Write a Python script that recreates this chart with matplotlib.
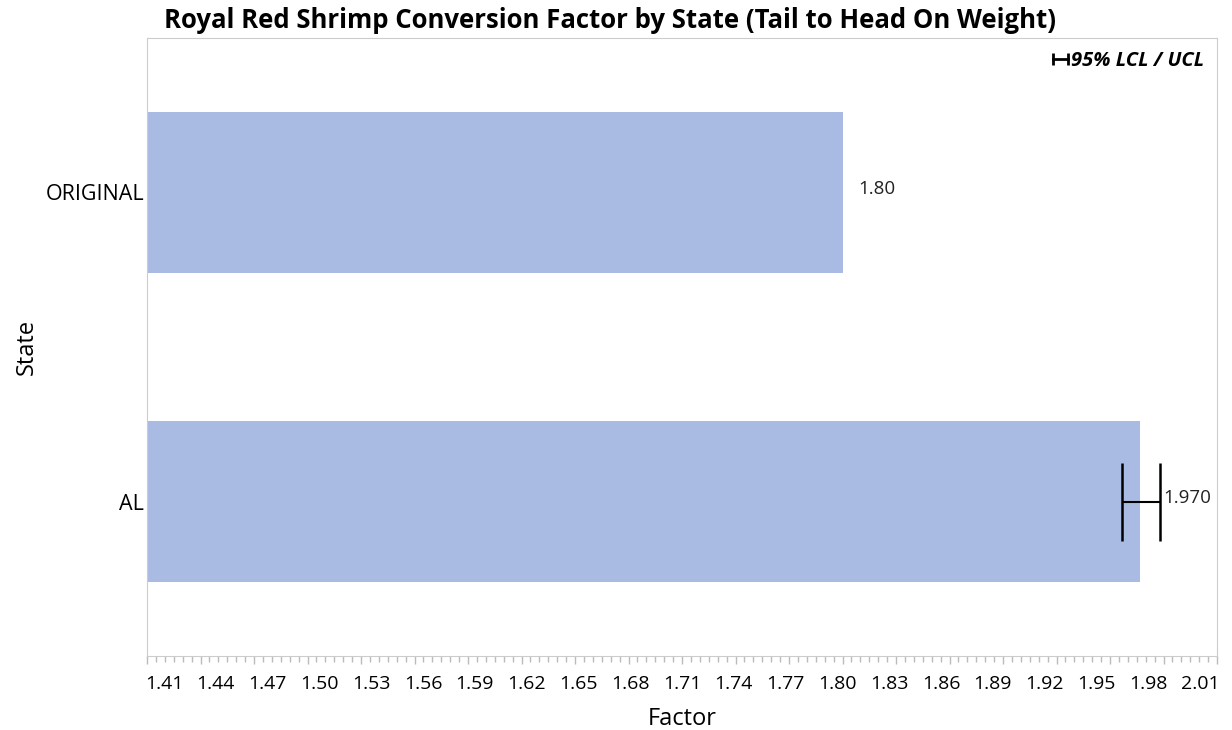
import matplotlib
matplotlib.use('Agg')
import matplotlib.pyplot as plt
import matplotlib.transforms as mtrans
from matplotlib.ticker import MultipleLocator, FormatStrFormatter
from matplotlib.lines import Line2D
from matplotlib.legend_handler import HandlerLine2D

# Data
states = ['AL', 'ORIGINAL']
factor = [1.967, 1.80]
lcl = [1.957, None]
ucl = [1.978, None]
value_labels = ['1.970', '1.80']

xmin = 1.41
xmax = 2.01

plt.rcParams['font.family'] = ['Open Sans', 'DejaVu Sans']

fig = plt.figure(figsize=(12.32, 7.3), dpi=100)
ax = fig.add_axes([147/1232, 1-656/730, (1217-147)/1232, (656-38)/730])

barcol = '#aabbe3'
ypos = list(range(len(states)))
ax.barh(ypos, [f - xmin for f in factor], left=xmin, height=0.52, color=barcol)

for i in range(len(states)):
    if lcl[i] is not None:
        ax.errorbar(factor[i], ypos[i], xerr=[[factor[i]-lcl[i]], [ucl[i]-factor[i]]],
                    fmt='none', ecolor='black', elinewidth=1.5, capsize=28, capthick=1.8)
        xt = ucl[i] + 0.002
    else:
        xt = factor[i] + 0.009
    ax.text(xt, ypos[i] + 0.01, value_labels[i], va='center', ha='left', fontsize=13.5, color='#222222')

ax.set_xlim(xmin, xmax)
ax.set_ylim(-0.5, 1.5)
ax.set_yticks(ypos)
ax.set_yticklabels(states, fontsize=15.5)
ax.xaxis.set_minor_locator(MultipleLocator(0.005))
xticks = [round(xmin + 0.03*k, 2) for k in range(21)]
ax.set_xticks(xticks)
ax.xaxis.set_major_formatter(FormatStrFormatter('%.2f'))
ax.tick_params(axis='x', which='major', labelsize=14, length=6, color='#bbbbbb', width=1, pad=8)
ax.tick_params(axis='x', which='minor', length=4, color='#bbbbbb', width=1)
ax.tick_params(axis='y', length=0, pad=2)

# labels squeezed inside the axis ends, like the original software does
for k, lab in enumerate(ax.get_xticklabels()):
    dx = (17 - 1.7 * k) / 100.0
    lab.set_transform(lab.get_transform() + mtrans.ScaledTranslation(dx, 0, fig.dpi_scale_trans))

for s in ax.spines.values():
    s.set_color('#cccccc')

ax.set_xlabel('Factor', fontsize=17, labelpad=10)
ax.set_ylabel('State', fontsize=17, labelpad=5)

fig.text(0.495, 0.99, 'Royal Red Shrimp Conversion Factor by State (Tail to Head On Weight)',
         ha='center', va='top', fontsize=18.5, fontweight='bold')

# legend for error bars
leg_handle = Line2D([0], [0], color='black', marker='|', markersize=8, markeredgewidth=2, linewidth=2)
ax.legend([leg_handle], ['95% LCL / UCL'], loc='upper right', frameon=False,
          handler_map={leg_handle: HandlerLine2D(marker_pad=0, numpoints=2)},
          handlelength=0.75, handletextpad=0.15, borderaxespad=0.25,
          prop={'weight': 'bold', 'style': 'italic', 'size': 14.5})

plt.savefig('out.png', dpi=100)
